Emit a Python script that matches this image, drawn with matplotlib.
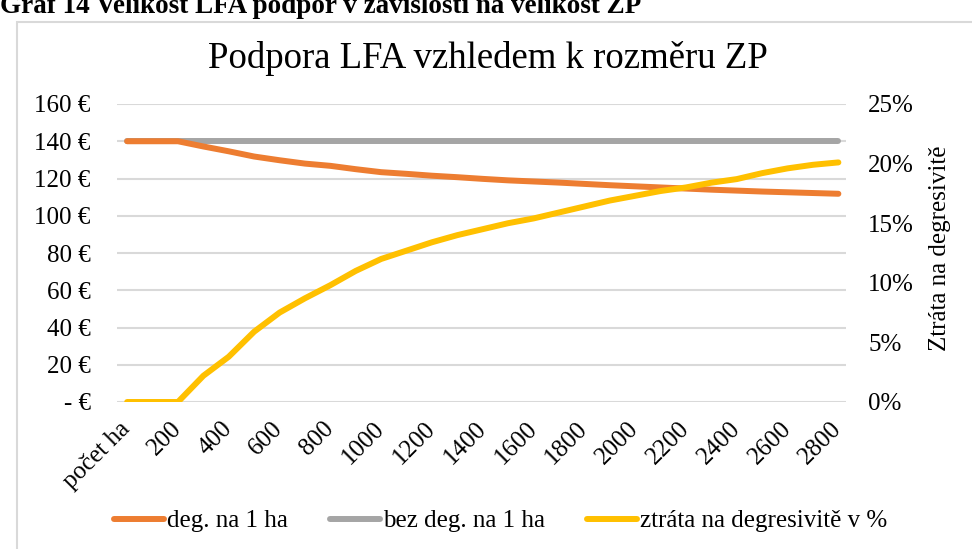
import matplotlib
matplotlib.use("Agg")
import matplotlib.pyplot as plt
from matplotlib.patches import Rectangle
from matplotlib.ticker import FuncFormatter, MultipleLocator

# ---- data -------------------------------------------------------------
categories = ["počet ha", "100", "200", "300", "400", "500", "600", "700",
              "800", "900", "1000", "1100", "1200", "1300", "1400", "1500",
              "1600", "1700", "1800", "1900", "2000", "2100", "2200", "2300",
              "2400", "2500", "2600", "2700", "2800"]
deg_na_ha = [140, 140, 140, 137.2, 134.6, 131.8, 129.8, 128.0, 126.8, 125.0,
             123.4, 122.5, 121.5, 120.7, 119.8, 119.0, 118.4, 117.8, 117.1,
             116.4, 115.8, 115.2, 114.6, 114.0, 113.5, 113.0, 112.6, 112.2,
             111.8]
bez_deg_na_ha = [140, 140, 140, 140, 140, 140, 140, 140, 140, 140, 140, 140,
                 140, 140, 140, 140, 140, 140, 140, 140, 140, 140, 140, 140,
                 140, 140, 140, 140, 140]
ztrata_pct = [0.0, 0.0, 0.0, 0.022, 0.038, 0.059, 0.075, 0.087, 0.098, 0.110,
              0.120, 0.127, 0.134, 0.140, 0.145, 0.150, 0.154, 0.159, 0.164,
              0.169, 0.173, 0.177, 0.180, 0.184, 0.187, 0.192, 0.196, 0.199,
              0.201]
series_names = ["deg. na 1 ha", "bez deg. na 1 ha", "ztráta na degresivitě v %"]
title = "Podpora LFA vzhledem k rozměru ZP"
header = "Graf 14 Velikost LFA podpor v závislosti na velikost ZP"
right_label = "Ztráta na degresivitě"

# ---- style ------------------------------------------------------------
plt.rcParams['font.family'] = ['Liberation Serif', 'DejaVu Serif']
W, H = 972, 549
fig = plt.figure(figsize=(W / 100, H / 100), dpi=100)

C_OR, C_GR, C_YE = "#ED7D31", "#A5A5A5", "#FFC000"
GRID = "#d9d9d9"
FS = 18

ax = fig.add_axes([117 / W, 1 - 402 / H, 729 / W, 298 / H])
ax2 = ax.twinx()

x = list(range(len(categories)))
l1, = ax.plot(x, deg_na_ha, color=C_OR, lw=4.3, solid_capstyle='round',
              solid_joinstyle='round', zorder=3)
l2, = ax.plot(x, bez_deg_na_ha, color=C_GR, lw=4.3, solid_capstyle='round',
              zorder=2)
l3, = ax2.plot(x, ztrata_pct, color=C_YE, lw=4.3, solid_capstyle='round',
               solid_joinstyle='round', zorder=3)

ax.set_xlim(-0.4, 28.3)
ax.set_ylim(0, 160)
ax2.set_ylim(0, 0.25)
ax.yaxis.set_major_locator(MultipleLocator(20))
ax2.yaxis.set_major_locator(MultipleLocator(0.05))
ax.yaxis.set_major_formatter(FuncFormatter(
    lambda v, p: "- €" if abs(v) < 1e-9 else f"{int(round(v))} €"))
ax2.yaxis.set_major_formatter(FuncFormatter(lambda v, p: f"{int(round(v * 100))}%"))

ax.set_xticks(x[::2])
ax.set_xticklabels(categories[::2])
for lbl in ax.get_xticklabels():
    lbl.set_rotation(45)
    lbl.set_rotation_mode('anchor')
    lbl.set_ha('right')
    lbl.set_va('center')

ax.grid(axis='y', color=GRID, lw=1.5, zorder=0)
ax.set_axisbelow(True)
for a in (ax, ax2):
    for s in a.spines.values():
        s.set_visible(False)
ax.tick_params(axis='both', length=0, labelsize=FS, colors='#000000')
ax.tick_params(axis='y', pad=19)
ax.tick_params(axis='x', pad=17)
ax2.tick_params(axis='y', length=0, labelsize=FS, pad=16)

# texts
fig.text(488 / W, 1 - 58 / H, title, ha='center', va='center', fontsize=26.5)
fig.text(0.0, 1 - 13 / H, header, ha='left', va='baseline', fontsize=19.5,
         fontweight='bold')
fig.text(940 / W, 1 - 248 / H, right_label, rotation=90, ha='center',
         va='center', fontsize=FS)

# frame
fig.patches.append(Rectangle((17 / W, -0.1), 1.2, 1.1 - 22 / H,
                             transform=fig.transFigure, fill=False,
                             edgecolor=GRID, lw=1.5))

fig.legend([l1, l2, l3], series_names, loc='center',
           bbox_to_anchor=(0.515, 1 - 521 / H), ncol=3, frameon=False,
           fontsize=FS, handlelength=2.0, handletextpad=0.1,
           columnspacing=1.7)

fig.savefig("out.png", dpi=100)
